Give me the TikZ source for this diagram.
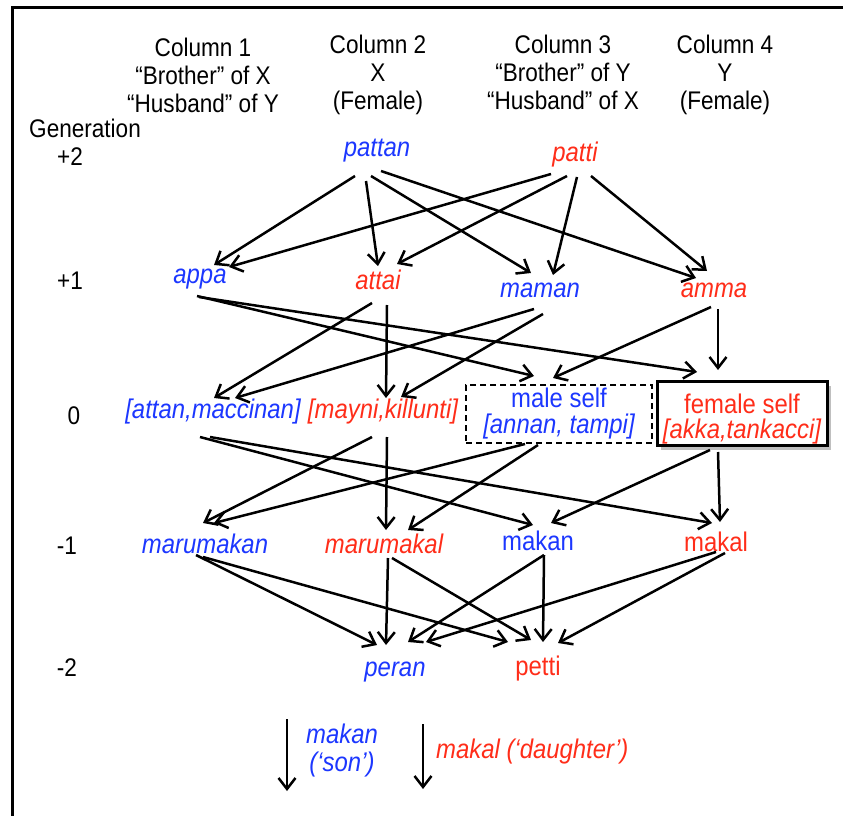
\documentclass[tikz,border=0pt]{standalone}
\usepackage{fontspec}
\setmainfont{Liberation Sans}[FakeStretch=0.885]
\usetikzlibrary{arrows.meta,calc,shadows}
\definecolor{kblue}{RGB}{28,55,255}
\definecolor{kred}{RGB}{255,45,25}
\tikzset{
  hdr/.style={inner sep=0pt,align=center,font=\fontsize{25.5}{28}\selectfont},
  gen/.style={inner sep=0pt,font=\fontsize{25.5}{28}\selectfont},
  nm/.style={inner sep=0pt,font=\fontsize{27}{28}\selectfont},
  bi/.style={nm,text=kblue,font=\fontsize{27}{28}\selectfont\itshape},
  ri/.style={nm,text=kred,font=\fontsize{27}{28}\selectfont\itshape},
  bu/.style={nm,text=kblue},
  ru/.style={nm,text=kred},
  arr/.style={line width=2.5pt,-{Straight Barb[length=11pt,width=17pt]}},
}
\begin{document}
\begin{tikzpicture}[x=1pt,y=-1pt]
\useasboundingbox (0,0) rectangle (843,816);
\fill[white] (0,0) rectangle (843,816);
\draw[line width=2.6pt] (12.5,816) -- (12.5,7.5) -- (843,7.5);
% headers
\node[hdr] (c1) at (203,75) {Column 1\\“Brother” of X\\“Husband” of Y};
\node[hdr] (c2) at (378,75) {Column 2\\X\\(Female)};
\node[hdr] (c3) at (563,72) {Column 3\\“Brother” of Y\\“Husband” of X};
\node[hdr] (c4) at (725,75) {Column 4\\Y\\(Female)};
\node[gen,anchor=west] (g) at (29,128) {Generation};
\node[gen] (g2) at (70,157) {+2};
\node[gen] (g1) at (70,281) {+1};
\node[gen] (g0) at (74,416) {0};
\node[gen] (gm1) at (67,546) {-1};
\node[gen] (gm2) at (67,668) {-2};
% names
\node[bi] (pattan) at (377,151) {pattan};
\node[ri] (patti) at (575,155) {patti};
\node[bi] (appa) at (200,279) {appa};
\node[ri] (attai) at (378,280) {attai};
\node[bi] (maman) at (540,290) {maman};
\node[ri] (amma) at (714,290) {amma};
\node[bi] (attanm) at (213,412) {[attan,maccinan]};
\node[ri] (mayni) at (383,412) {[mayni,killunti]};
\node[draw,line width=2.4pt,dash pattern=on 6pt off 4pt,minimum width=186pt,minimum height=58pt,
      align=center,text=kblue,font=\fontsize{27}{26}\selectfont,inner sep=0pt] (ms) at (559,414)
      {male self\\\itshape [annan, tampi]};
\node[draw,line width=3pt,fill=white,minimum width=170pt,minimum height=64pt,
      drop shadow={shadow xshift=4pt,shadow yshift=-5pt,fill=black!45,opacity=.55},
      align=center,text=kred,font=\fontsize{27}{25}\selectfont,inner sep=0pt] (fs) at (742,413)
      {\rule{0pt}{31pt}female self\hspace{26pt}\\\itshape [akka,tankacci]};
\node[bi] (marumakan) at (205,544) {marumakan};
\node[ri] (marumakal) at (384,544) {marumakal};
\node[bu] (makan) at (538,541) {makan};
\node[ru] (makal) at (716,542) {makal};
\node[bi] (peran) at (395,672) {peran};
\node[ru] (petti) at (538,669) {petti};
% +2 -> +1
\draw[arr] ($(pattan)+(-22,25)$) -- ($(appa)+(14,-14)$);
\draw[arr] ($(pattan)+(-11,30)$) -- ($(attai)+(0,-14)$);
\draw[arr] ($(pattan)+(-6,25)$) -- ($(maman)+(-9,-17)$);
\draw[arr] ($(pattan)+(4,20)$) -- ($(amma)+(-18,-12)$);
\draw[arr] ($(patti)+(-24,19)$) -- ($(appa)+(29,-12)$);
\draw[arr] ($(patti)+(-8,21)$) -- ($(attai)+(19,-16)$);
\draw[arr] ($(patti)+(2,22)$) -- ($(maman)+(13,-15)$);
\draw[arr] ($(patti)+(16,21)$) -- ($(amma)+(-7,-19)$);
% +1 -> 0
\draw[arr] ($(appa)+(-3,17)$) -- ($(ms)+(-25,-38)$);
\draw[arr] ($(appa)+(-1,18)$) -- ($(fs)+(-45,-41)$);
\draw[arr] ($(attai)+(-6,23)$) -- ($(attanm)+(1,-14)$);
\draw[arr] ($(attai)+(9,25)$) -- ($(mayni)+(3,-14)$);
\draw[arr] ($(maman)+(-6,19)$) -- ($(attanm)+(22,-14)$);
\draw[arr] ($(maman)+(3,24)$) -- ($(mayni)+(18,-15)$);
\draw[arr] ($(amma)+(-3,17)$) -- ($(ms)+(-6,-36)$);
\draw[arr] ($(amma)+(4,19)$) -- ($(fs)+(-24,-43)$);
% 0 -> -1
\draw[arr] ($(attanm)+(-13,25)$) -- ($(makan)+(-5,-16)$);
\draw[arr] ($(attanm)+(-3,25)$) -- ($(makal)+(-4,-19)$);
\draw[arr] ($(mayni)+(-11,25)$) -- ($(marumakan)+(-2,-21)$);
\draw[arr] ($(mayni)+(4,25)$) -- ($(marumakal)+(2,-14)$);
\draw[arr] ($(ms)+(-34,30)$) -- ($(marumakan)+(9,-21)$);
\draw[arr] ($(ms)+(-21,31)$) -- ($(marumakal)+(24,-14)$);
\draw[arr] ($(fs)+(-32,37)$) -- ($(makan)+(13,-18)$);
\draw[arr] ($(fs)+(-24,39)$) -- ($(makal)+(4,-20)$);
% -1 -> -2
\draw[arr] ($(marumakan)+(-9,11)$) -- ($(peran)+(-18,-27)$);
\draw[arr] ($(marumakan)+(-2,13)$) -- ($(petti)+(-30,-27)$);
\draw[arr] ($(marumakal)+(4,14)$) -- ($(peran)+(-9,-27)$);
\draw[arr] ($(marumakal)+(8,14)$) -- ($(petti)+(-7,-29)$);
\draw[arr] ($(makan)+(6,14)$) -- ($(peran)+(13,-30)$);
\draw[arr] ($(makan)+(6,14)$) -- ($(petti)+(5,-27)$);
\draw[arr] ($(makal)+(0,10)$) -- ($(peran)+(31,-30)$);
\draw[arr] ($(makal)+(9,11)$) -- ($(petti)+(20,-26)$);
% legend
\coordinate (l1a) at (287,719);
\coordinate (l1b) at (287,791);
\coordinate (l2a) at (423,724);
\coordinate (l2b) at (423,789);
\draw[arr] (l1a) -- (l1b);
\draw[arr] (l2a) -- (l2b);
\node[bi,align=center,font=\fontsize{27}{28}\selectfont\itshape] (son) at (342,751) {makan\\(‘son’)};
\node[ri,anchor=west] (dau) at (436,752) {makal (‘daughter’)};
\end{tikzpicture}
\end{document}
